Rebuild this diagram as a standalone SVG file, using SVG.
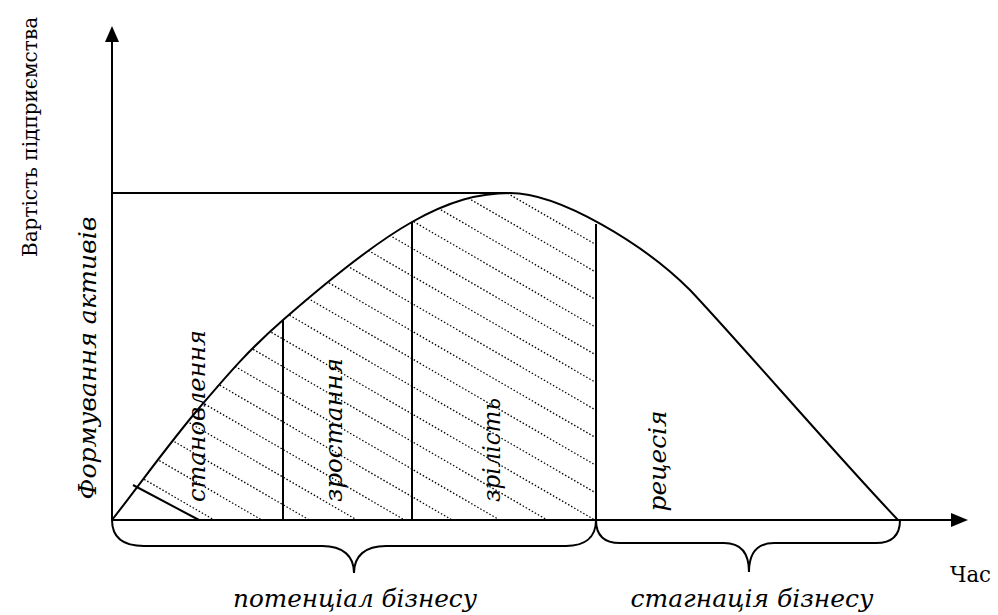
<svg xmlns="http://www.w3.org/2000/svg" width="998" height="615" viewBox="0 0 998 615">
<style>
.ax{stroke:#000;stroke-width:2;fill:none}
.ln{stroke:#000;stroke-width:2;fill:none}
.hatch{stroke:#000;stroke-width:1.3;stroke-dasharray:1.5 2;fill:none}
.up{font-family:'DejaVu Serif','Times New Roman','Liberation Serif',serif;font-size:23px;fill:#000}
.it{font-family:'DejaVu Serif','Times New Roman','Liberation Serif',serif;font-style:italic;font-size:25px;fill:#000}
</style>
<defs>
<clipPath id="under"><path d="M112,520 C141.3,482.3 171.5,440.3 200,407 C228.5,373.7 247.7,350.8 283,320 C318.3,289.2 374.2,243.2 412,222 C449.8,200.8 479.3,193 510,193 C540.7,193 566,207.8 596,224 L596,520 Z"/></clipPath>
<clipPath id="poly"><polygon points="133,485 133,100 596,100 596,520 199,520"/></clipPath>
</defs>
<g id="hatching" clip-path="url(#under)"><g clip-path="url(#poly)">
<line class="hatch" x1="120" y1="-59.06" x2="610" y2="225.14"/>
<line class="hatch" x1="120" y1="-31.46" x2="610" y2="252.74"/>
<line class="hatch" x1="120" y1="-3.86" x2="610" y2="280.34"/>
<line class="hatch" x1="120" y1="23.74" x2="610" y2="307.94"/>
<line class="hatch" x1="120" y1="51.34" x2="610" y2="335.54"/>
<line class="hatch" x1="120" y1="78.94" x2="610" y2="363.14"/>
<line class="hatch" x1="120" y1="106.54" x2="610" y2="390.74"/>
<line class="hatch" x1="120" y1="134.14" x2="610" y2="418.34"/>
<line class="hatch" x1="120" y1="161.74" x2="610" y2="445.94"/>
<line class="hatch" x1="120" y1="189.34" x2="610" y2="473.54"/>
<line class="hatch" x1="120" y1="216.94" x2="610" y2="501.14"/>
<line class="hatch" x1="120" y1="244.54" x2="610" y2="528.74"/>
<line class="hatch" x1="120" y1="272.14" x2="610" y2="556.34"/>
<line class="hatch" x1="120" y1="299.74" x2="610" y2="583.94"/>
<line class="hatch" x1="120" y1="327.34" x2="610" y2="611.54"/>
<line class="hatch" x1="120" y1="354.94" x2="610" y2="639.14"/>
<line class="hatch" x1="120" y1="382.54" x2="610" y2="666.74"/>
<line class="hatch" x1="120" y1="410.14" x2="610" y2="694.34"/>
<line class="hatch" x1="120" y1="437.74" x2="610" y2="721.94"/>
<line class="hatch" x1="120" y1="465.34" x2="610" y2="749.54"/>
<line class="hatch" x1="120" y1="492.94" x2="610" y2="777.14"/>
</g></g>
<g id="axes">
<line class="ax" x1="112" y1="520" x2="112" y2="40"/>
<polygon points="112,26 105,42 119,42" fill="#000"/>
<line class="ax" x1="112" y1="520" x2="953" y2="520"/>
<polygon points="968,520 951,513 951,527" fill="#000"/>
</g>
<g id="curve">
<path class="ln" d="M112,520 C141.3,482.3 171.5,440.3 200,407 C228.5,373.7 247.7,350.8 283,320 C318.3,289.2 374.2,243.2 412,222 C449.8,200.8 479.3,193 510,193 C560,193 645,245 690,290 C740,343 838,457 898,520"/>
</g>
<g id="connectors">
<line class="ln" x1="112" y1="193" x2="508" y2="193"/>
<line class="ln" x1="133" y1="485" x2="199" y2="520"/>
<line class="ln" x1="283" y1="320" x2="283" y2="520"/>
<line class="ln" x1="412" y1="222" x2="412" y2="520"/>
<line class="ln" x1="596" y1="224" x2="596" y2="520"/>
</g>
<g id="brace-potential">
<path class="ln" d="M112,520 C112,538 124,546 144,546 L322,546 C343,546 354,556 354,573 C354,556 365,546 386,546 L566,546 C584,546 596,538 596,520"/>
<text class="it" x="355" y="607" text-anchor="middle" textLength="244" lengthAdjust="spacingAndGlyphs">потенціал бізнесу</text>
</g>
<g id="brace-stagnation">
<path class="ln" d="M596,520 C596,536 605,543 620,543 L724,543 C741,543 749,553 749,572 C749,553 757,543 774,543 L876,543 C891,543 900,536 900,520"/>
<text class="it" x="752" y="607" text-anchor="middle" textLength="243" lengthAdjust="spacingAndGlyphs">стагнація бізнесу</text>
</g>
<g id="labels">
<text class="up" transform="translate(37,137) rotate(-90)" text-anchor="middle" style="font-size:20px">Вартість підприємства</text>
<text class="it" transform="translate(96,358) rotate(-90)" text-anchor="middle" textLength="283" lengthAdjust="spacingAndGlyphs">Формування активів</text>
<text class="it" transform="translate(205,416) rotate(-90)" text-anchor="middle" textLength="172" lengthAdjust="spacingAndGlyphs">становлення</text>
<text class="it" transform="translate(342,430) rotate(-90)" text-anchor="middle" textLength="144" lengthAdjust="spacingAndGlyphs">зростання</text>
<text class="it" transform="translate(500,450) rotate(-90)" text-anchor="middle" textLength="104" lengthAdjust="spacingAndGlyphs">зрілість</text>
<text class="it" transform="translate(666,461) rotate(-90)" text-anchor="middle" textLength="101" lengthAdjust="spacingAndGlyphs">рецесія</text>
<text class="up" x="950" y="582" textLength="41" lengthAdjust="spacingAndGlyphs">Час</text>
</g>
</svg>
